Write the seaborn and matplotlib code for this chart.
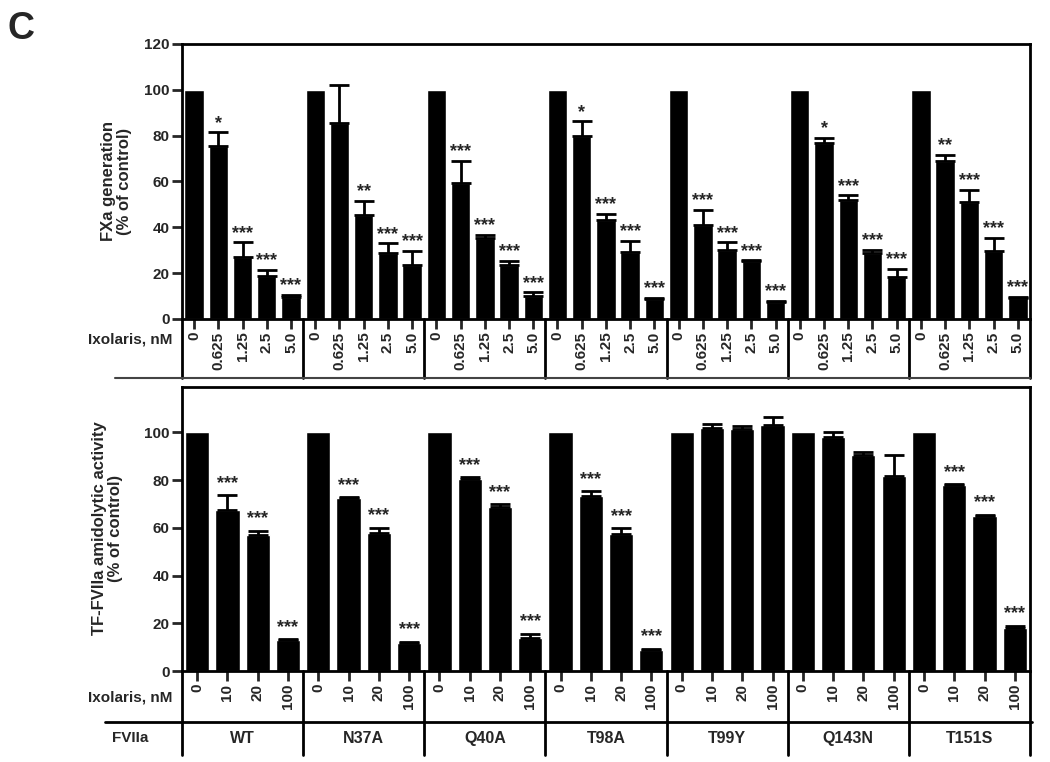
import numpy as np
import pandas as pd
import matplotlib
matplotlib.use("Agg")
import matplotlib.pyplot as plt
import matplotlib.transforms as mtransforms
import seaborn as sns

sns.set_style("white")
plt.rcParams["font.family"] = ["Liberation Sans", "DejaVu Sans"]
plt.rcParams["font.weight"] = "bold"

# ---- data ----
variants = ["WT", "N37A", "Q40A", "T98A", "T99Y", "Q143N", "T151S"]

# panel 1: FXa generation (% of control)
fxa_doses = ["0", "0.625", "1.25", "2.5", "5.0"]
fxa_mean = [
    [100, 75.6, 27.2, 18.6, 9.4],
    [100, 85.3, 45.5, 28.6, 23.5],
    [100, 59.2, 35.2, 23.7, 10.2],
    [100, 80.0, 43.3, 29.4, 8.7],
    [100, 41.1, 30.2, 25.3, 7.6],
    [100, 76.9, 51.7, 28.8, 18.3],
    [100, 69.0, 51.0, 29.8, 9.0],
]
fxa_sem = [
    [0, 5.8, 6.2, 2.9, 1.1],
    [0, 16.7, 6.1, 4.4, 6.3],
    [0, 9.8, 1.6, 1.7, 1.4],
    [0, 6.2, 2.5, 4.8, 0.6],
    [0, 6.4, 3.2, 0.3, 0.2],
    [0, 2.0, 2.2, 1.3, 3.5],
    [0, 2.5, 5.4, 5.5, 0.6],
]
fxa_stars = [
    ["", "*", "***", "***", "***"],
    ["", "", "**", "***", "***"],
    ["", "***", "***", "***", "***"],
    ["", "*", "***", "***", "***"],
    ["", "***", "***", "***", "***"],
    ["", "*", "***", "***", "***"],
    ["", "**", "***", "***", "***"],
]

# panel 2: TF-FVIIa amidolytic activity (% of control)
amid_doses = ["0", "10", "20", "100"]
amid_mean = [
    [100, 67.5, 57.1, 12.9],
    [100, 72.5, 57.7, 11.8],
    [100, 80.5, 68.6, 14.0],
    [100, 73.5, 57.6, 9.0],
    [100, 101.7, 101.4, 103.2],
    [100, 98.0, 90.6, 81.9],
    [100, 78.0, 64.8, 18.2],
]
amid_sem = [
    [0, 6.3, 1.7, 0.4],
    [0, 0.5, 2.4, 0.5],
    [0, 0.7, 1.4, 1.7],
    [0, 2.0, 2.2, 0.4],
    [0, 1.8, 1.3, 3.4],
    [0, 2.1, 1.3, 8.6],
    [0, 0.2, 0.7, 0.8],
]
amid_stars = [
    ["", "***", "***", "***"],
    ["", "***", "***", "***"],
    ["", "***", "***", "***"],
    ["", "***", "***", "***"],
    ["", "", "", ""],
    ["", "", "", ""],
    ["", "***", "***", "***"],
]


def make_frame(doses, means, sems, stars):
    rows = []
    for g, var in enumerate(variants):
        for d, dose in enumerate(doses):
            rows.append({"pos": g * len(doses) + d, "variant": var, "dose": dose,
                         "value": means[g][d], "sem": sems[g][d], "star": stars[g][d]})
    return pd.DataFrame(rows)


def draw_panel(ax, df, n_dose, ylim, yticks, star_off, sep_depth):
    sns.barplot(data=df, x="pos", y="value", color="black", saturation=1,
                width=0.8, errorbar=None, ax=ax)
    # upper error bars only
    err = df[df["dose"] != "0"]
    ax.errorbar(err["pos"], err["value"], yerr=[np.zeros(len(err)), err["sem"]],
                fmt="none", ecolor="black", elinewidth=2, capsize=7, capthick=2)
    for _, r in df.iterrows():
        if r["star"]:
            ax.text(r["pos"], r["value"] + r["sem"] + star_off, r["star"],
                    ha="center", va="baseline", fontsize=13, fontweight="bold")
    ax.set_xlim(-0.5, len(df) - 0.5)
    ax.set_ylim(*ylim)
    ax.set_yticks(yticks)
    ax.set_yticklabels([str(t) for t in yticks], fontsize=11, fontweight="bold")
    ax.set_xticks(df["pos"])
    ax.set_xticklabels(df["dose"], rotation=90, fontsize=11, fontweight="bold")
    ax.tick_params(axis="both", direction="out", length=7, width=2, pad=2,
                   bottom=True, left=True)
    ax.set_xlabel("")
    ax.set_ylabel("")
    for s in ax.spines.values():
        s.set_linewidth(2)
        s.set_color("black")
    # group separators below the axis
    trans = mtransforms.blended_transform_factory(ax.transData, ax.transAxes)
    for g in range(1, len(variants)):
        x = g * n_dose - 0.5
        ax.plot([x, x], [0, -sep_depth], transform=trans, color="black",
                lw=2, clip_on=False)
    for x in (0, 1):
        ax.plot([x, x], [0, -sep_depth], transform=ax.transAxes, color="black",
                lw=2, clip_on=False)
    return trans


fig = plt.figure(figsize=(10.5, 7.62), dpi=100)
ax1 = fig.add_axes([0.1733, 0.5814, 0.8076, 0.3609])
ax2 = fig.add_axes([0.1733, 0.1194, 0.8076, 0.3727])

fxa_df = make_frame(fxa_doses, fxa_mean, fxa_sem, fxa_stars)
amid_df = make_frame(amid_doses, amid_mean, amid_sem, amid_stars)

draw_panel(ax1, fxa_df, len(fxa_doses), (0, 120), list(range(0, 121, 20)), 2.0, 0.215)
trans2 = draw_panel(ax2, amid_df, len(amid_doses), (0, 119), list(range(0, 101, 20)), 3.0, 0.296)

# top panel frame pieces
ax1.plot([-0.079, 1.0], [-0.215, -0.215], transform=ax1.transAxes, color="#444444",
         lw=1.5, clip_on=False)
ax1.text(-0.011, -0.076, "Ixolaris, nM", transform=ax1.transAxes, ha="right",
         va="center", fontsize=11, fontweight="bold")
ax1.text(-0.077, 0.5, "FXa generation\n(% of control)", transform=ax1.transAxes,
         rotation=90, ha="center", va="center", fontsize=12, fontweight="bold",
         linespacing=1.1)

# bottom panel frame pieces
ax2.plot([-0.091, 1.003], [-0.18, -0.18], transform=ax2.transAxes, color="black",
         lw=2, clip_on=False)
ax2.text(-0.011, -0.095, "Ixolaris, nM", transform=ax2.transAxes, ha="right",
         va="center", fontsize=11, fontweight="bold")
ax2.text(-0.04, -0.236, "FVIIa", transform=ax2.transAxes, ha="right",
         va="center", fontsize=11, fontweight="bold")
for g, var in enumerate(variants):
    xc = g * len(amid_doses) + (len(amid_doses) - 1) / 2
    ax2.text(xc, -0.236, var, transform=trans2, ha="center", va="center",
             fontsize=11.5, fontweight="bold")
ax2.text(-0.088, 0.503, "TF-FVIIa amidolytic activity\n(% of control)",
         transform=ax2.transAxes, rotation=90, ha="center", va="center",
         fontsize=12, fontweight="bold", linespacing=1.1)

fig.text(0.007, 0.985, "C", ha="left", va="top", fontsize=27, fontweight="bold")

fig.savefig("out.png", dpi=100)
